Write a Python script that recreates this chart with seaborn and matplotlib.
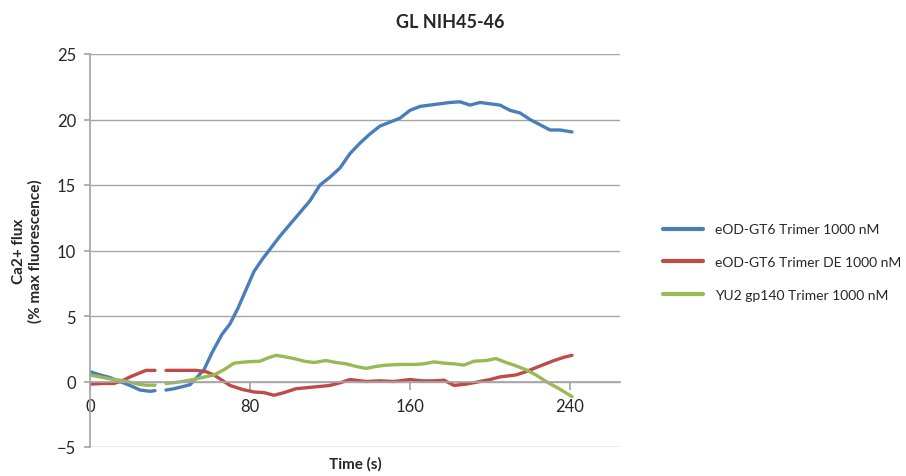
import numpy as np
import pandas as pd
import matplotlib
matplotlib.use("Agg")
import matplotlib.pyplot as plt
import seaborn as sns

# ---- data (NaN marks the gap in the recording) ----
blue_t = [0, 5, 10, 15, 20, 25, 30, 32.5, 35,
          38, 42, 46, 50, 54, 57, 61, 66, 70, 74, 78, 82, 86, 90, 95, 100, 105, 110, 115,
          120, 125, 130, 135, 140, 145, 150, 155, 160, 165, 170, 175, 180, 185, 190, 195,
          200, 205, 210, 215, 220, 225, 230, 235, 241]
blue_v = [0.75, 0.5, 0.3, 0.0, -0.3, -0.65, -0.75, -0.7, np.nan,
          -0.65, -0.55, -0.4, -0.25, 0.4, 0.9, 2.2, 3.6, 4.4, 5.6, 7.0, 8.4, 9.3, 10.1, 11.1, 12.0, 12.9, 13.8, 15.0,
          15.6, 16.3, 17.4, 18.2, 18.9, 19.5, 19.8, 20.1, 20.7, 21.0, 21.1, 21.2, 21.3, 21.35, 21.1, 21.3,
          21.2, 21.1, 20.7, 20.5, 20.0, 19.6, 19.2, 19.2, 19.05]

red_t = [0, 6, 12, 16, 20, 24, 28, 32.5, 35,
         38, 45, 53, 58, 62, 66, 70, 76, 82, 87, 92, 97, 103, 110, 120, 125, 130, 138,
         145, 152, 160, 166, 172, 177, 182, 188, 195, 200, 205, 213, 218, 222, 227, 232, 237, 241]
red_v = [-0.2, -0.15, -0.15, 0.05, 0.35, 0.6, 0.85, 0.85, np.nan,
         0.85, 0.85, 0.85, 0.75, 0.5, 0.1, -0.3, -0.6, -0.8, -0.85, -1.05, -0.85, -0.55, -0.45, -0.3, -0.1, 0.15, 0.0,
         0.05, 0.0, 0.15, 0.05, 0.05, 0.1, -0.3, -0.2, 0.0, 0.15, 0.35, 0.5, 0.75, 1.0, 1.3, 1.6, 1.85, 2.0]

green_t = [0, 5, 10, 15, 20, 24, 28, 32.5, 35,
           38, 44, 50, 56, 62, 67, 72, 78, 85, 89, 93, 97, 102, 107, 112, 118, 123, 128, 133,
           138, 143, 148, 155, 162, 167, 172, 177, 182, 187, 192, 198, 203, 208, 212, 218, 223, 228, 234, 241]
green_v = [0.5, 0.35, 0.2, 0.1, -0.05, -0.2, -0.28, -0.28, np.nan,
           -0.15, -0.05, 0.1, 0.3, 0.5, 0.9, 1.4, 1.5, 1.55, 1.8, 2.0, 1.9, 1.75, 1.55, 1.45, 1.6, 1.45, 1.35, 1.15,
           1.0, 1.15, 1.25, 1.3, 1.3, 1.35, 1.5, 1.4, 1.35, 1.25, 1.55, 1.6, 1.75, 1.45, 1.25, 0.9, 0.5, 0.0, -0.5, -1.15]

series_names = ["eOD-GT6 Trimer 1000 nM",
                "eOD-GT6 Trimer DE 1000 nM",
                "YU2 gp140 Trimer 1000 nM"]
colors = ["#4A7EBB", "#BE4B48", "#98B954"]

x_ticks = [0, 80, 160, 240]
y_ticks = [-5, 0, 5, 10, 15, 20, 25]

# ---- build long-form table, splitting at gaps ----
frames = []
for name, t, v in zip(series_names, [blue_t, red_t, green_t], [blue_v, red_v, green_v]):
    v = np.asarray(v, dtype=float)
    seg = np.cumsum(np.isnan(v))
    df = pd.DataFrame({"t": t, "v": v, "series": name, "seg": [f"{name}_{s}" for s in seg]})
    frames.append(df.dropna())
data = pd.concat(frames, ignore_index=True)

sns.set_theme(style="white")
plt.rcParams["font.family"] = ["Lato", "DejaVu Sans"]

fig = plt.figure(figsize=(9.06, 4.77), dpi=100)
ax = fig.add_axes([90/906, 1-448/477, (620-90)/906, (448-55)/477])

sns.lineplot(data=data, x="t", y="v", hue="series", units="seg", estimator=None,
             palette=dict(zip(series_names, colors)), hue_order=series_names,
             linewidth=2.4, ax=ax, sort=False)

ax.set_xlim(0, 265)
ax.set_ylim(-5, 25)
ax.set_yticks(y_ticks)
ax.set_xticks(x_ticks)
ax.yaxis.grid(True, color="#A6A6A6", linewidth=1)
ax.set_axisbelow(True)
for s in ["top", "right"]:
    ax.spines[s].set_visible(False)
ax.spines["left"].set_color("#A6A6A6")
ax.spines["bottom"].set_color("#A6A6A6")
ax.spines["bottom"].set_position(("data", 0))
ax.tick_params(axis="y", length=4, color="#A6A6A6", labelsize=12, pad=6, direction="out", left=True)
ax.tick_params(axis="x", length=6, color="#A6A6A6", labelsize=12, pad=6, direction="out", bottom=True)

ax.set_xlabel("Time (s)", fontsize=11, fontweight="bold")
ax.xaxis.set_label_coords(0.5, -0.022)
ax.set_ylabel("Ca2+ flux\n(% max fluorescence)", fontsize=11, fontweight="bold", labelpad=10)
fig.text(450/906, 1-22/477, "GL NIH45-46", ha="center", va="center", fontsize=13, fontweight="bold")

leg = ax.legend(loc="center left", bbox_to_anchor=(1.081, 0.47), frameon=False,
                borderaxespad=0, borderpad=0,
                fontsize=10, handlelength=2.9, labelspacing=1.5, handletextpad=0.85)
for line in leg.get_lines():
    line.set_linewidth(3)

fig.savefig("out.png", dpi=100)
